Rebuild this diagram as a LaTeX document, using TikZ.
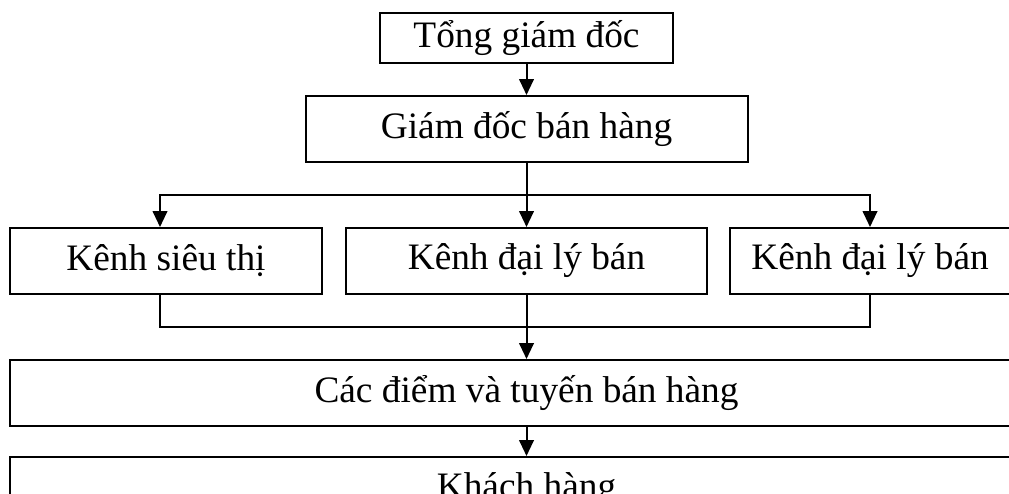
\documentclass[tikz,border=0pt]{standalone}
\usepackage{fontspec}
\setmainfont{Liberation Serif}
\usepackage{tikz}
\usetikzlibrary{positioning}
\usetikzlibrary{arrows.meta}

\tikzset{
	box/.style={draw, rectangle, line width=1.5pt, minimum height=49.5pt, inner sep=0pt},
	link/.style={line width=1.5pt},
	arr/.style={line width=1.5pt, -{Triangle[length=12pt,width=11pt]}}
}

\begin{document}
\begin{tikzpicture}[font=\fontsize{28}{34}\selectfont]

		\useasboundingbox (0,0) rectangle (756.75pt,-369.75pt);
		\clip (0,0) rectangle (756.75pt,-369.75pt);

		% top levels
		\node (tong) [box, minimum width=219.75pt, minimum height=37.5pt] at (394.875pt,-28.5pt) {Tổng giám đốc};
		\node (gdbh) [box, minimum width=331.5pt, below = 23.25pt of tong] {Giám đốc bán hàng};
		\draw [arr] (tong) -- (gdbh);

		% channels
		\node (kenh2) [box, minimum width=270.75pt, below = 48pt of gdbh] {Kênh đại lý bán};
		\node (kenh1) [box, minimum width=234pt, left = 16.5pt of kenh2] {Kênh siêu thị};
		\node (kenh3) [box, minimum width=210pt, right = 15.75pt of kenh2] {Kênh đại lý bán};

		\coordinate [below = 24pt of gdbh.south] (bus1);
		\draw [link] (gdbh.south) -- (bus1);
		\draw [arr] (bus1) -| ([xshift=-4.5pt]kenh1.north);
		\draw [arr] (bus1) -- (kenh2.north);
		\draw [arr] (bus1) -| (kenh3.north);

		% points and customers
		\node (diem) [box, minimum width=775.5pt, below = 48pt of kenh2] {Các điểm và tuyến bán hàng};
		\node (khach) [box, minimum width=775.5pt, below = 21.75pt of diem] {Khách hàng};

		\coordinate [below = 24pt of kenh2.south] (bus2);
		\draw [link] ([xshift=-4.5pt]kenh1.south) |- (bus2) -| (kenh3.south);
		\draw [arr] (kenh2.south) -- (diem.north);
		\draw [arr] (diem) -- (khach);

\end{tikzpicture}
\end{document}
